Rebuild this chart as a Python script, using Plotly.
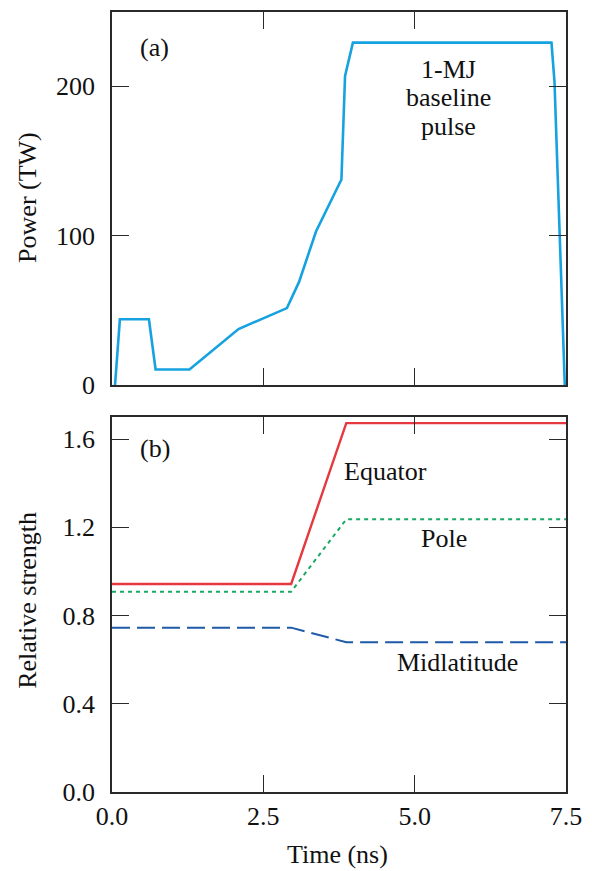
import plotly.graph_objects as go

# ---- data ----
power_t = [0.05, 0.13, 0.61, 0.72, 1.28, 2.09, 2.89, 3.09, 3.37, 3.79, 3.85, 3.98, 7.26, 7.31, 7.48]
power_tw = [0, 44, 44, 10.4, 10.4, 37.5, 51.5, 69, 102.7, 137.5, 206.7, 229, 229, 202.7, 0]

strength_t = [0.0, 2.96, 3.87, 7.5]
equator = [0.943, 0.943, 1.672, 1.672]
pole = [0.908, 0.908, 1.236, 1.236]
midlat = [0.745, 0.745, 0.679, 0.679]

x_ticks = [0.0, 2.5, 5.0, 7.5]
x_ticklabels = ["0.0", "2.5", "5.0", "7.5"]
p_ticks = [0, 100, 200]
s_ticks = [0.0, 0.4, 0.8, 1.2, 1.6]
s_ticklabels = ["0.0", "0.4", "0.8", "1.2", "1.6"]

FONT = "Liberation Serif"
FS = 26
AX = "#2a2a2a"
TXT = "#111"

fig = go.Figure()
fig.add_trace(go.Scatter(x=power_t, y=power_tw, mode="lines", xaxis="x", yaxis="y",
                         line=dict(color="#16a2e0", width=2.6), showlegend=False))
fig.add_trace(go.Scatter(x=strength_t, y=equator, mode="lines", xaxis="x2", yaxis="y2",
                         line=dict(color="#e5383f", width=2.4), showlegend=False))
fig.add_trace(go.Scatter(x=strength_t, y=pole, mode="lines", xaxis="x2", yaxis="y2",
                         line=dict(color="#19a866", width=2, dash="4px,4px"), showlegend=False))
fig.add_trace(go.Scatter(x=strength_t, y=midlat, mode="lines", xaxis="x2", yaxis="y2",
                         line=dict(color="#1f5aa8", width=2, dash="18px,7px"), showlegend=False))

common_x = dict(range=[0, 7.5], tickvals=x_ticks, ticks="inside", ticklen=17, tickwidth=1.3,
                tickcolor=AX, showline=True, linecolor=AX, linewidth=1.5, mirror="ticks",
                showgrid=False, zeroline=False)
common_y = dict(ticks="inside", ticklen=17, tickwidth=1.3, tickcolor=AX, showline=True,
                linecolor=AX, linewidth=1.5, mirror="ticks", showgrid=False, zeroline=False,
                tickfont=dict(family=FONT, size=FS, color=TXT), ticklabelstandoff=10)

fig.update_layout(
    width=592, height=871,
    margin=dict(l=112, r=24, t=10, b=79),
    paper_bgcolor="white", plot_bgcolor="white",
    font=dict(family=FONT, size=FS, color=TXT),
    xaxis=dict(**common_x, domain=[0, 1], anchor="y", showticklabels=False),
    yaxis=dict(**common_y, domain=[0.5217, 1], anchor="x", range=[0, 249.5], tickvals=p_ticks),
    xaxis2=dict(**common_x, domain=[0, 1], anchor="y2", ticktext=x_ticklabels,
                tickfont=dict(family=FONT, size=FS, color=TXT)),
    yaxis2=dict(**common_y, domain=[0, 0.4808], anchor="x2", range=[0, 1.7],
                tickvals=s_ticks, ticktext=s_ticklabels),
)

ann = [
    dict(text="(a)", x=0.71, y=226, xref="x", yref="y"),
    dict(text="1-MJ", x=5.56, y=211.3, xref="x", yref="y"),
    dict(text="baseline", x=5.56, y=192, xref="x", yref="y"),
    dict(text="pulse", x=5.56, y=172.7, xref="x", yref="y"),
    dict(text="(b)", x=0.71, y=1.555, xref="x2", yref="y2"),
    dict(text="Equator", x=4.51, y=1.455, xref="x2", yref="y2"),
    dict(text="Pole", x=5.48, y=1.148, xref="x2", yref="y2"),
    dict(text="Midlatitude", x=5.71, y=0.588, xref="x2", yref="y2"),
    dict(text="Power (TW)", x=(27 - 112) / 456, y=(792 - 196) / 782, xref="paper", yref="paper",
         textangle=-90),
    dict(text="Relative strength", x=(27 - 112) / 456, y=(792 - 600) / 782, xref="paper",
         yref="paper", textangle=-90),
    dict(text="Time (ns)", x=(338 - 112) / 456, y=(792 - 855) / 782, xref="paper", yref="paper"),
]
for a in ann:
    a.update(showarrow=False, xanchor="center", yanchor="middle",
             font=dict(family=FONT, size=FS, color=TXT))
ann.append(dict(text="TC7135JR1C", x=(5 - 112) / 456, y=(792 - 866) / 782, xref="paper",
                yref="paper", xanchor="left", yanchor="top", showarrow=False,
                font=dict(family=FONT, size=12, color=TXT)))
fig.update_layout(annotations=ann)

fig.write_html("out.html")
